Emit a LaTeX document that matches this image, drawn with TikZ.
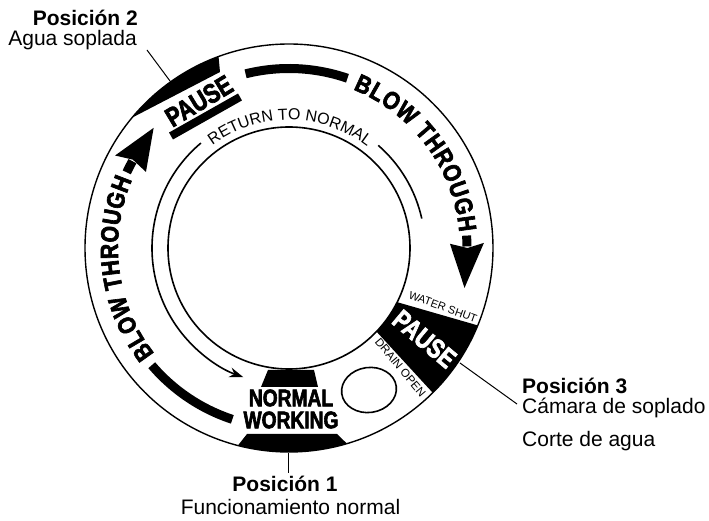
\documentclass[tikz,border=0pt]{standalone}
\usepackage{fontspec}
\setmainfont{Liberation Sans}
\newfontfamily\condfont[FakeStretch=0.8,FakeBold=2.5]{Liberation Sans}
\newfontfamily\ringfont[FakeStretch=0.85,FakeBold=2.5]{Liberation Sans}
\usetikzlibrary{decorations.text,arrows.meta}
\newcommand\myCondBig{\condfont\bfseries\fontsize{24}{24}\selectfont}
\newcommand\myPauseBig{\condfont\bfseries\fontsize{27}{27}\selectfont}
\newcommand\myRingBig{\ringfont\bfseries\fontsize{25}{25}\selectfont}
\newcommand\myRtn{\fontsize{16}{16}\selectfont}
\begin{document}
\begin{tikzpicture}[x=1pt,y=1pt,
  ringline/.style={line width=1.4pt},
  innerline/.style={line width=1.6pt},
  thickbar/.style={line width=9pt},
  leader/.style={line width=1pt},
  lbl/.style={inner sep=0pt, font=\fontsize{21}{21}\selectfont},
  blbl/.style={inner sep=0pt, font=\fontsize{21}{21}\selectfont\bfseries},
  small/.style={inner sep=0pt, font=\fontsize{11}{11}\selectfont},
  cond/.style={inner sep=0pt, font=\myCondBig},
  pausefont/.style={inner sep=0pt, font=\myPauseBig},
]
\useasboundingbox (-289,-273) rectangle (420,248);

% black fills
\fill (140.3:204) arc[start angle=140.3, end angle=110.2, radius=204] -- (-69,176) -- cycle;
\fill (-26.6:121) -- (-22.3:204) arc[start angle=-22.3, end angle=-45.2, radius=204] -- (-43.7:121) arc[start angle=-43.7, end angle=-26.6, radius=121] -- cycle;
\fill (-21,-122) -- (25,-122) -- (29,-139) -- (-28,-139) -- cycle;
\fill (-42,-186) -- (255.5:204) arc[start angle=255.5, end angle=286.5, radius=204] -- (48,-186) -- cycle;

% circles
\draw[ringline] (0,0) circle[radius=204];
\draw[innerline] (0,0) circle[radius=121];

% return to normal
\draw[innerline, -{Stealth[length=14pt,width=10pt]}] (130:137) arc[start angle=130, end angle=250.5, radius=137];
\draw[innerline] (49:136) arc[start angle=49, end angle=12.5, radius=136];
\path[decorate, decoration={text along path, text={|\myRtn|RETURN TO NORMAL}, text align=center}]
  (129.5:128) arc[start angle=129.5, end angle=49.5, radius=128];

% blow through texts
\path[decorate, decoration={text along path, text={|\myRingBig|BLOW THROUGH}, text align={fit to path}}]
  (68:171) arc[start angle=68, end angle=5.3, radius=171];
\path[decorate, decoration={text along path, text={|\myRingBig|BLOW THROUGH}, text align={fit to path}}]
  (218.1:171) arc[start angle=218.1, end angle=156.5, radius=171];

% bars
\draw[thickbar] (104:179.5) arc[start angle=104, end angle=71, radius=179.5];
\draw[thickbar] (220.5:180.5) arc[start angle=220.5, end angle=251.7, radius=180.5];

% ring arrows
\draw[thickbar] (4:178) arc[start angle=4, end angle=0.5, radius=178];
\fill (1.5:161) -- (-12.8:180) -- (1.5:195) -- (0:178.5) -- cycle;
\draw[thickbar] (155:179) arc[start angle=155, end angle=151, radius=179];
\fill (152:162) -- (138.4:181) -- (152:197) -- (150.5:179.5) -- cycle;

% pause labels
\node[pausefont, rotate=31] (pauseA) at (-90,147) {PAUSE};
\draw[line width=8pt] (-118,112) -- (-49,151);
\node[pausefont, text=white, rotate=-40] (pauseB) at (135.5,-91) {PAUSE};
\node[small, rotate=-20] (water) at (154,-59) {WATER SHUT};
\node[small, font=\fontsize{11.5}{11.5}\selectfont, rotate=-50] (drain) at (111.5,-119.5) {DRAIN OPEN};
\draw[innerline, rotate around={8:(80,-142)}] (80,-142) ellipse[x radius=27.5, y radius=22.5];

% normal working
\node[cond] (normal) at (2,-150) {NORMAL};
\node[cond] (working) at (2,-172) {WORKING};

% labels
\node[blbl, anchor=base east] (pos2) at (-151,222) {Posición 2};
\node[lbl, anchor=base east] (agua) at (-152,202) {Agua soplada};
\node[blbl, anchor=base west] (pos3) at (233,-146) {Posición 3};
\node[lbl, anchor=base west] (camara) at (233,-166) {Cámara de soplado};
\node[lbl, anchor=base west] (corte) at (233,-199) {Corte de agua};
\node[blbl, anchor=base] (pos1) at (-4,-244) {Posición 1};
\node[lbl, anchor=base] (func) at (1.5,-266) {Funcionamiento normal};

% leaders
\coordinate (l2a) at (-142,198);
\coordinate (l2b) at (-119,167);
\coordinate (l3a) at (171,-115);
\coordinate (l3b) at (228,-156);
\coordinate (l1a) at (-1,-205);
\coordinate (l1b) at (-1,-225);
\draw[leader] (l2a) -- (l2b);
\draw[leader] (l3a) -- (l3b);
\draw[leader] (l1a) -- (l1b);
\end{tikzpicture}
\end{document}
